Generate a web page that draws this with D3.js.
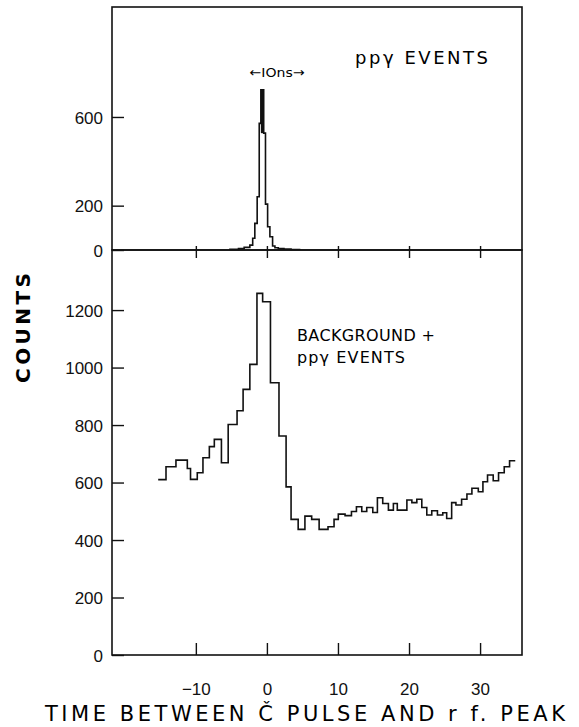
<!DOCTYPE html>
<html>
<head>
<meta charset="utf-8">
<script src="https://cdn.jsdelivr.net/npm/d3@7"></script>
<style>
  body { margin: 0; background: #fff; }
  svg { font-family: "DejaVu Sans", sans-serif; }
  .frame { fill: none; stroke: #111; stroke-width: 1.6; }
  .hist { fill: none; stroke: #111; stroke-width: 1.6; stroke-linejoin: miter; }
  .tick line { stroke: #111; stroke-width: 1.4; }
  .tick text { fill: #111; font-size: 17px; }
</style>
</head>
<body>
<div id="chart"></div>
<script>
// ppγ events only (top panel): bin edges in ns, counts per bin
var peakEdges = [-5.2, -4.0, -3.2, -2.4, -2.0, -1.7, -1.37, -1.08, -0.85, -0.45, -0.2, 0.1, 0.42, 0.8, 1.13, 1.6, 2.4, 3.4, 4.6];
var peakCounts = [3, 6, 12, 22, 53, 120, 240, 571, 722, 527, 207, 105, 60, 18, 10, 6, 4, 2];

// background + ppγ events (bottom panel)
var bgEdges = [-15.3, -14.2, -12.8, -11.2, -10.75, -9.8, -9.0, -8.1, -7.4, -6.4, -5.45, -4.2, -3.35, -2.4, -1.4,
  -0.6, 0.5, 1.7, 2.7, 3.4, 4.4, 5.35, 6.3, 7.35, 8.6, 9.45, 10.05, 11.0, 11.9, 12.6, 13.35, 14.05, 14.9, 15.55,
  16.3, 17.1, 17.8, 18.35, 19.7, 20.4, 21.1, 21.8, 22.5, 23.2, 24.0, 24.75, 25.3, 26.0, 26.6, 27.4, 28.15, 28.85,
  29.75, 30.4, 31.05, 31.85, 32.6, 33.4, 34.15, 34.95];
var bgCounts = [610, 655, 678, 649, 611, 634, 686, 725, 750, 669, 802, 850, 924, 1011, 1258,
  1229, 947, 762, 585, 472, 437, 483, 472, 437, 446, 472, 490, 485, 499, 516, 499, 513, 496,
  547, 527, 504, 527, 504, 539, 530, 542, 513, 487, 502, 487, 495, 475, 530, 522, 542, 560,
  580, 568, 603, 626, 606, 634, 655, 676];

var xTicks = [-10, 0, 10, 20, 30];
var topTicks = [0, 200, 600];
var bottomTicks = [0, 200, 400, 600, 800, 1000, 1200];

var width = 579, height = 727;
var left = 112, right = 522, topY = 7, mid = 250, bottom = 655;

var svg = d3.select("#chart").append("svg")
    .attr("width", width)
    .attr("height", height);

var x = d3.scaleLinear().domain([-21.8, 35.9]).range([left, right]);
var yTop = d3.scaleLinear().domain([0, 1096]).range([mid, topY]);
var yBot = d3.scaleLinear().domain([0, 1409]).range([bottom, mid]);

function steps(edges, counts) {
    var pts = counts.map(function(c, i) { return [edges[i], c]; });
    pts.push([edges[edges.length - 1], counts[counts.length - 1]]);
    return pts;
}

// frames
svg.append("rect").attr("class", "frame")
    .attr("x", left).attr("y", topY).attr("width", right - left).attr("height", mid - topY);
svg.append("rect").attr("class", "frame")
    .attr("x", left).attr("y", mid).attr("width", right - left).attr("height", bottom - mid);

// y axes, ticks pointing inward
svg.append("g")
    .attr("transform", "translate(" + left + ",0)")
    .call(d3.axisRight(yTop).tickValues(topTicks).tickSize(12).tickFormat(d3.format("d")))
    .call(function(g) {
        g.select(".domain").remove();
        g.selectAll("text").attr("x", -9).style("text-anchor", "end").attr("dy", "0.36em");
    });

svg.append("g")
    .attr("transform", "translate(" + left + ",0)")
    .call(d3.axisRight(yBot).tickValues(bottomTicks).tickSize(12).tickFormat(d3.format("d")))
    .call(function(g) {
        g.select(".domain").remove();
        g.selectAll("text").attr("x", -9).style("text-anchor", "end").attr("dy", "0.36em");
    });

// x ticks on the shared border (no labels)
svg.append("g")
    .attr("transform", "translate(0," + (mid + 8) + ")")
    .call(d3.axisTop(x).tickValues(xTicks).tickSize(12).tickFormat(""))
    .call(function(g) { g.select(".domain").remove(); });

// bottom x axis
svg.append("g")
    .attr("transform", "translate(0," + bottom + ")")
    .call(d3.axisTop(x).tickValues(xTicks).tickSize(12).tickFormat(function(d) { return d < 0 ? "\u2212" + (-d) : d; }))
    .call(function(g) {
        g.select(".domain").remove();
        g.selectAll("text").attr("y", 40).attr("dy", 0);
    });

var line = function(ys) {
    return d3.line()
        .x(function(d) { return x(d[0]); })
        .y(function(d) { return ys(d[1]); })
        .curve(d3.curveStepAfter);
};

var peakPts = steps(peakEdges, peakCounts);
peakPts.unshift([peakEdges[0], 0]);
peakPts.push([peakEdges[peakEdges.length - 1], 0]);
svg.append("path").attr("class", "hist")
    .attr("d", line(yTop)(peakPts));
// the narrow top bin prints as a solid bar
svg.append("rect")
    .attr("x", x(peakEdges[8]))
    .attr("y", yTop(peakCounts[8]))
    .attr("width", x(peakEdges[9]) - x(peakEdges[8]))
    .attr("height", yTop(peakCounts[9]) - yTop(peakCounts[8]))
    .style("fill", "#111");

svg.append("path").attr("class", "hist")
    .attr("d", line(yBot)(steps(bgEdges, bgCounts)));

// labels
svg.append("text")
    .attr("x", 277).attr("y", 77)
    .attr("textLength", 55).attr("lengthAdjust", "spacingAndGlyphs")
    .style("text-anchor", "middle").style("font-size", "13px")
    .text("\u2190IOns\u2192");

svg.append("text")
    .attr("x", 355).attr("y", 64)
    .attr("textLength", 133).attr("lengthAdjust", "spacing")
    .style("font-size", "18px")
    .text("pp\u03b3 EVENTS");

svg.append("text")
    .attr("x", 297).attr("y", 341)
    .attr("textLength", 138).attr("lengthAdjust", "spacing")
    .style("font-size", "16px")
    .text("BACKGROUND +");
svg.append("text")
    .attr("x", 297).attr("y", 363)
    .attr("textLength", 108).attr("lengthAdjust", "spacing")
    .style("font-size", "16px")
    .text("pp\u03b3 EVENTS");

svg.append("text")
    .attr("transform", "translate(30,328) rotate(-90)")
    .attr("textLength", 110).attr("lengthAdjust", "spacing")
    .style("text-anchor", "middle").style("font-size", "20px").style("font-weight", "bold")
    .text("COUNTS");

svg.append("text")
    .attr("x", 305).attr("y", 721)
    .attr("textLength", 520).attr("lengthAdjust", "spacing")
    .style("text-anchor", "middle").style("font-size", "21px")
    .text("TIME BETWEEN \u010c PULSE AND r f.  PEAK");
</script>
</body>
</html>
